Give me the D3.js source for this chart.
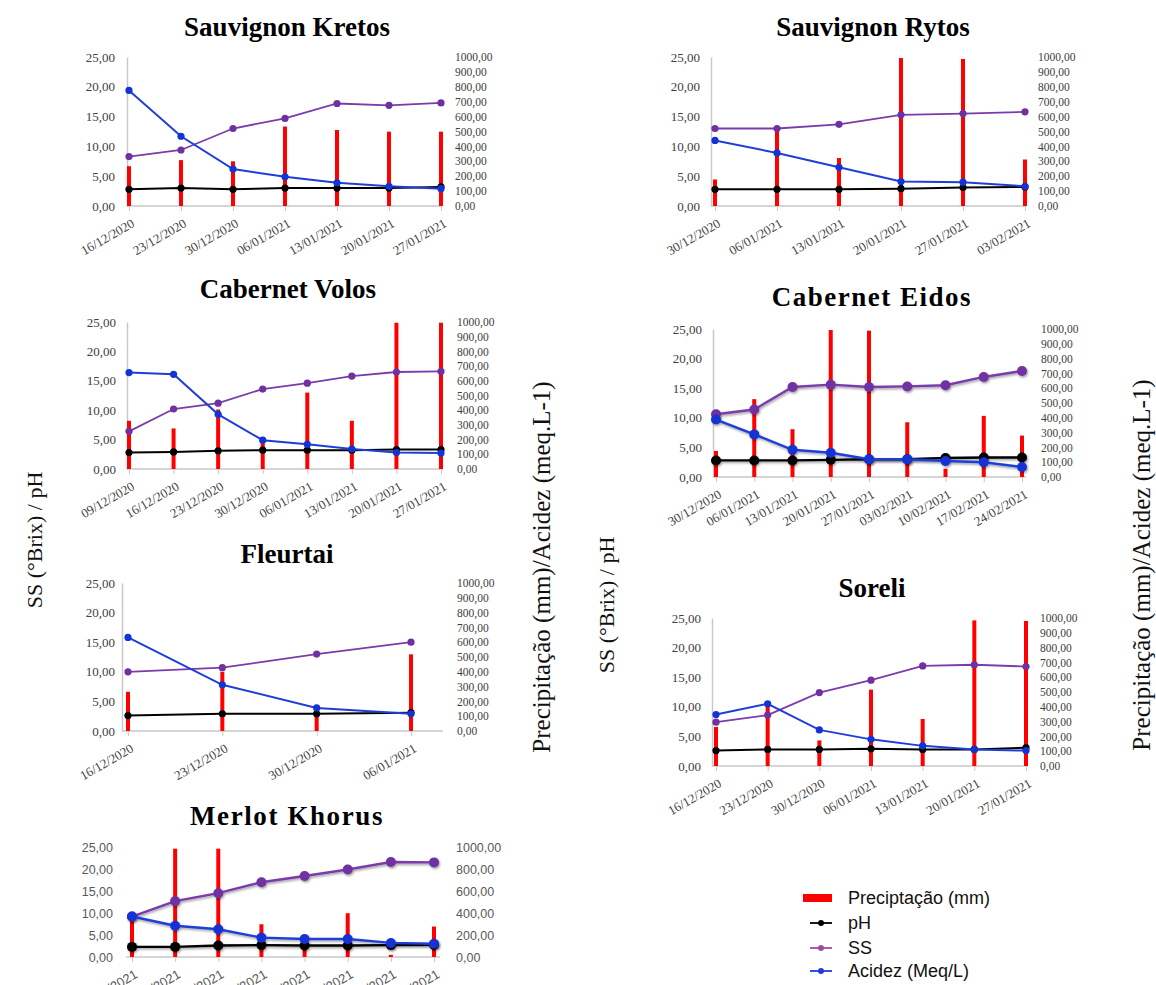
<!DOCTYPE html>
<html><head><meta charset="utf-8">
<script src="https://cdn.jsdelivr.net/npm/d3@7"></script>
<style>body{margin:0;background:#fff} svg{display:block}</style>
</head><body><svg id="c" width="1156" height="985"></svg>
<script>
// ---------- DATA ----------
const leftTicks = [0, 5, 10, 15, 20, 25];
const rightTicks = [0, 100, 200, 300, 400, 500, 600, 700, 800, 900, 1000];
const merlotRightTicks = [0, 200, 400, 600, 800, 1000];

const kretosDates = ["16/12/2020","23/12/2020","30/12/2020","06/01/2021","13/01/2021","20/01/2021","27/01/2021"];
const kretosPrecip = [267, 308, 300, 533, 510, 499, 499];
const kretosPH = [2.8, 3.0, 2.8, 3.0, 3.0, 3.0, 3.2];
const kretosSS = [8.3, 9.4, 13.0, 14.7, 17.2, 16.9, 17.3];
const kretosAcidez = [19.4, 11.7, 6.2, 4.9, 3.9, 3.3, 2.9];

const rytosDates = ["30/12/2020","06/01/2021","13/01/2021","20/01/2021","27/01/2021","03/02/2021"];
const rytosPrecip = [178, 520, 322, 993, 987, 312];
const rytosPH = [2.8, 2.8, 2.8, 2.9, 3.1, 3.2];
const rytosSS = [13.0, 13.0, 13.7, 15.3, 15.5, 15.8];
const rytosAcidez = [11.0, 8.9, 6.5, 4.1, 4.0, 3.3];

const volosDates = ["09/12/2020","16/12/2020","23/12/2020","30/12/2020","06/01/2021","13/01/2021","20/01/2021","27/01/2021"];
const volosPrecip = [328, 276, 405, 190, 520, 328, 995, 995];
const volosPH = [2.8, 2.9, 3.1, 3.2, 3.2, 3.2, 3.3, 3.3];
const volosSS = [6.4, 10.2, 11.2, 13.6, 14.6, 15.8, 16.5, 16.6];
const volosAcidez = [16.4, 16.1, 9.3, 4.9, 4.2, 3.4, 2.8, 2.7];

const eidosDates = ["30/12/2020","06/01/2021","13/01/2021","20/01/2021","27/01/2021","03/02/2021","10/02/2021","17/02/2021","24/02/2021"];
const eidosPrecip = [176, 526, 323, 993, 989, 370, 56, 413, 280];
const eidosPH = [2.8, 2.8, 2.8, 2.9, 3.0, 3.0, 3.2, 3.3, 3.3];
const eidosSS = [10.6, 11.4, 15.2, 15.6, 15.2, 15.3, 15.5, 16.9, 17.9];
const eidosAcidez = [9.7, 7.2, 4.6, 4.1, 3.0, 3.0, 2.7, 2.5, 1.7];

const fleurtaiDates = ["16/12/2020","23/12/2020","30/12/2020","06/01/2021"];
const fleurtaiPrecip = [265, 400, 135, 518];
const fleurtaiPH = [2.6, 2.9, 2.9, 3.1];
const fleurtaiSS = [10.0, 10.7, 13.0, 15.0];
const fleurtaiAcidez = [15.8, 7.8, 3.9, 2.9];

const soreliDates = ["16/12/2020","23/12/2020","30/12/2020","06/01/2021","13/01/2021","20/01/2021","27/01/2021"];
const soreliPrecip = [264, 410, 173, 516, 318, 984, 980];
const soreliPH = [2.6, 2.8, 2.8, 2.9, 2.8, 2.8, 3.1];
const soreliSS = [7.4, 8.6, 12.4, 14.5, 16.9, 17.1, 16.8];
const soreliAcidez = [8.7, 10.5, 6.1, 4.5, 3.4, 2.8, 2.6];

const merlotDates = ["13/01/2021","20/01/2021","27/01/2021","03/02/2021","10/02/2021","17/02/2021","24/02/2021","03/03/2021"];
const merlotPrecip = [383, 985, 985, 298, 80, 398, 20, 277];
const merlotPH = [2.3, 2.3, 2.6, 2.7, 2.6, 2.6, 2.7, 2.8];
const merlotSS = [9.2, 12.7, 14.5, 17.0, 18.4, 19.9, 21.6, 21.5];
const merlotAcidez = [9.2, 7.1, 6.3, 4.4, 4.1, 4.1, 3.2, 3.0];

const legendLabels = ["Preciptação (mm)", "pH", "SS", "Acidez (Meq/L)"];

// ---------- STYLE / LAYOUT ----------
const C = { precip: "#ff0000", ph: "#000000", ss: "#7a3bab", ssDot: "#7030a0", ac: "#1e3fd6", acDot: "#1433d4" };
const SERIF = "'Liberation Serif','Times New Roman',serif";
const SANS = "'Liberation Sans',Arial,sans-serif";

const svg = d3.select("#c");
const defs = svg.append("defs");
defs.append("filter").attr("id", "glow").attr("x", "-20%").attr("y", "-20%").attr("width", "140%").attr("height", "140%")
  .append("feDropShadow").attr("dx", 1).attr("dy", 1.5).attr("stdDeviation", 1.3)
  .attr("flood-color", "#000").attr("flood-opacity", 0.4);

const fmt = v => d3.format(".2f")(v).replace(".", ",");

const panels = [
  { title: "Sauvignon Kretos", tx: 287, ty: 36, axisX: 127, x0: 129, x1: 441, right: 442, yTop: 57, yBase: 206, lblL: 115, lblR: 455,
    d: { dates: kretosDates, precip: kretosPrecip, ph: kretosPH, ss: kretosSS, ac: kretosAcidez } },
  { title: "Sauvignon Rytos", tx: 873, ty: 36, axisX: 711, x0: 715, x1: 1025, right: 1027, yTop: 57, yBase: 206, lblL: 700, lblR: 1038,
    d: { dates: rytosDates, precip: rytosPrecip, ph: rytosPH, ss: rytosSS, ac: rytosAcidez } },
  { title: "Cabernet Volos", tx: 288, ty: 298, axisX: 127, x0: 129, x1: 441, right: 443, yTop: 322, yBase: 469, lblL: 116, lblR: 457,
    d: { dates: volosDates, precip: volosPrecip, ph: volosPH, ss: volosSS, ac: volosAcidez } },
  { title: "Cabernet Eidos", tx: 872, ty: 306, axisX: 713, x0: 716, x1: 1022, right: 1026, yTop: 329, yBase: 477, lblL: 702, lblR: 1041,
    glow: true, r: 5, spacing: 1.5,
    d: { dates: eidosDates, precip: eidosPrecip, ph: eidosPH, ss: eidosSS, ac: eidosAcidez } },
  { title: "Fleurtai", tx: 287, ty: 563, axisX: 122, x0: 128, x1: 411, right: 443, yTop: 583, yBase: 731, lblL: 115, lblR: 457,
    d: { dates: fleurtaiDates, precip: fleurtaiPrecip, ph: fleurtaiPH, ss: fleurtaiSS, ac: fleurtaiAcidez } },
  { title: "Soreli", tx: 872, ty: 597, axisX: 712, x0: 716, x1: 1026, right: 1028, yTop: 618, yBase: 766, lblL: 701, lblR: 1040,
    d: { dates: soreliDates, precip: soreliPrecip, ph: soreliPH, ss: soreliSS, ac: soreliAcidez } },
  { title: "Merlot Khorus", tx: 287, ty: 825, axisX: 126, x0: 132, x1: 434, right: 440, yTop: 847, yBase: 957, lblL: 113, lblR: 456,
    glow: true, r: 5, spacing: 1.6, sans: true, noLeftLine: true, rTicks: merlotRightTicks,
    d: { dates: merlotDates, precip: merlotPrecip, ph: merlotPH, ss: merlotSS, ac: merlotAcidez } }
];

function drawPanel(p) {
  const g = svg.append("g");
  const d = p.d;
  const font = p.sans ? SANS : SERIF;
  const tickCol = p.sans ? "#595959" : "#404040";
  const x = d3.scalePoint().domain(d.dates).range([p.x0, p.x1]);
  const yL = d3.scaleLinear().domain([0, 25]).range([p.yBase, p.yTop]);
  const yR = d3.scaleLinear().domain([0, 1000]).range([p.yBase, p.yTop]);

  // title
  g.append("text").attr("x", p.tx).attr("y", p.ty).attr("text-anchor", "middle")
    .attr("font-family", SERIF).attr("font-weight", "bold").attr("font-size", 27)
    .attr("letter-spacing", p.spacing || 0).text(p.title);

  // left axis
  const la = g.append("g").attr("transform", `translate(${p.axisX},0)`)
    .call(d3.axisLeft(yL).tickValues(leftTicks).tickSize(0).tickSizeOuter(0).tickPadding(p.axisX - p.lblL).tickFormat(fmt));
  la.attr("font-family", font);
  la.select(".domain").attr("stroke", p.noLeftLine ? "none" : "#c8c8c8").attr("stroke-width", 1.5);
  la.selectAll("text").attr("font-family", font).attr("font-size", p.sans ? 12.5 : 13).attr("fill", tickCol);

  // right axis
  const ra = g.append("g").attr("transform", `translate(${p.right},0)`)
    .call(d3.axisRight(yR).tickValues(p.rTicks || rightTicks).tickSize(0).tickSizeOuter(0).tickPadding(p.lblR - p.right).tickFormat(fmt));
  ra.attr("font-family", font);
  ra.select(".domain").remove();
  ra.selectAll("text").attr("font-family", font).attr("font-size", p.sans ? 12.5 : 11.5).attr("fill", tickCol);

  // bottom axis
  g.append("line").attr("x1", p.axisX).attr("x2", p.right).attr("y1", p.yBase).attr("y2", p.yBase)
    .attr("stroke", "#c8c8c8").attr("stroke-width", 1.5);
  const ba = g.append("g").attr("transform", `translate(0,${p.yBase})`)
    .call(d3.axisBottom(x).tickSize(5).tickSizeOuter(0));
  ba.attr("font-family", font);
  ba.select(".domain").remove();
  ba.selectAll(".tick line").attr("stroke", "#c8c8c8");
  ba.selectAll("text").attr("font-family", font).attr("font-size", 13).attr("fill", tickCol)
    .attr("text-anchor", "end").attr("y", 0).attr("dy", 0)
    .attr("transform", "translate(6,20) rotate(-30)");

  // bars
  const idx = d3.range(d.dates.length);
  g.append("g").selectAll("rect").data(idx).join("rect")
    .attr("x", i => x(d.dates[i]) - 2).attr("width", 4)
    .attr("y", i => yR(d.precip[i])).attr("height", i => p.yBase - yR(d.precip[i]))
    .attr("fill", C.precip);

  const series = [
    { v: d.ph, line: C.ph, dot: C.ph, w: 2 },
    { v: d.ss, line: C.ss, dot: C.ssDot, w: 1.8 },
    { v: d.ac, line: C.ac, dot: C.acDot, w: 2 }
  ];
  const r = p.r || 3.6;
  series.forEach(s => {
    const sg = g.append("g");
    if (p.glow) sg.attr("filter", "url(#glow)");
    const line = d3.line().x(i => x(d.dates[i])).y(i => yL(s.v[i]));
    sg.append("path").attr("d", line(idx)).attr("fill", "none").attr("stroke", s.line)
      .attr("stroke-width", p.glow ? 2.4 : s.w);
    sg.selectAll("circle").data(idx).join("circle")
      .attr("cx", i => x(d.dates[i])).attr("cy", i => yL(s.v[i])).attr("r", r).attr("fill", s.dot);
  });
}

panels.forEach(drawPanel);

// axis titles
function vtitle(txt, cx, cy, size) {
  svg.append("text").attr("transform", `translate(${cx},${cy}) rotate(-90)`)
    .attr("text-anchor", "middle").attr("dominant-baseline", "central")
    .attr("font-family", SERIF).attr("font-size", size).attr("fill", "#111").text(txt);
}
vtitle("SS (°Brix) / pH", 34, 540, 22);
vtitle("Precipitação (mm)/Acidez (meq.L-1)", 541, 567, 25);
vtitle("SS (°Brix) / pH", 606, 605, 22);
vtitle("Precipitação (mm)/Acidez (meq.L-1)", 1141, 565, 25);

// legend
const lg = svg.append("g").attr("font-family", SANS).attr("font-size", 18).attr("fill", "#111");
const legY = [898, 923, 948, 971];
const legCols = [C.precip, C.ph, "#a04aa8", C.ac];
legendLabels.forEach((t, i) => {
  const y = legY[i];
  if (i === 0) {
    lg.append("rect").attr("x", 803).attr("y", y - 4).attr("width", 29).attr("height", 8).attr("fill", C.precip);
  } else {
    lg.append("line").attr("x1", 810).attr("x2", 832).attr("y1", y).attr("y2", y).attr("stroke", legCols[i]).attr("stroke-width", 1.8);
    lg.append("circle").attr("cx", 821).attr("cy", y).attr("r", 3).attr("fill", legCols[i]);
  }
  lg.append("text").attr("x", 848).attr("y", y).attr("dominant-baseline", "central").text(t);
});
</script></body></html>
